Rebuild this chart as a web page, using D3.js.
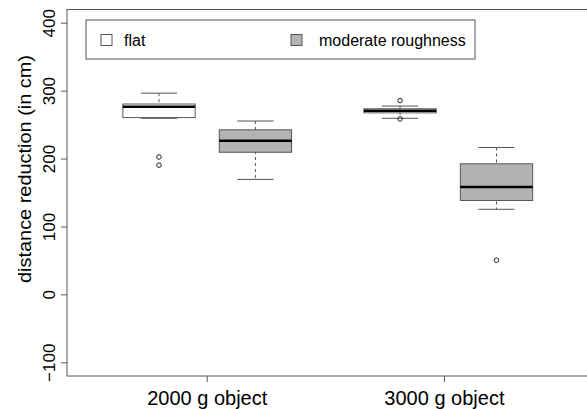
<!DOCTYPE html>
<html>
<head>
<meta charset="utf-8">
<script src="https://cdn.jsdelivr.net/npm/d3@7"></script>
<style>
	body { margin: 0; background: #fff; }
	text { font-family: "Liberation Sans", Arial, sans-serif; }
</style>
</head>
<body>
<div id="container"></div>
<script>
// box positions and stats
var groups = ["2000 g object", "3000 g object"];
var groupPos = [1.5, 3.96];
var surfaces = ["flat", "moderate roughness"];
var surfaceFill = ["#ffffff", "#b3b3b3"];

var boxPos = [1, 2, 3.5, 4.5];
var boxSurface = [0, 1, 0, 1];
var whiskLow = [260, 170, 260, 126];
var q1 = [261, 210, 268, 139];
var median = [277, 227, 271, 159];
var q3 = [281, 243, 274, 193];
var whiskHigh = [297, 256, 278, 217];
var outliers = [[203, 191], [], [286, 259], [51]];

var yTicks = [-100, 0, 100, 200, 300, 400];

var width = 587,
	height = 409,
	plotLeft = 67,
	plotTop = 9.5,
	plotBottom = 376,
	boxWidth = 0.75;

var xScale = d3.scaleLinear()
	.domain([1, 4.5])
	.range([159, 496.5]);

var yScale = d3.scaleLinear()
	.domain([-100, 400])
	.range([362.8, 23.2]);

var svg = d3.select("#container")
	.append("svg")
		.attr("width", width)
		.attr("height", height);

var frameCol = "#555";

// plot frame (right side runs off the picture)
svg.append("rect")
	.attr("x", plotLeft)
	.attr("y", plotTop)
	.attr("width", 560)
	.attr("height", plotBottom - plotTop)
	.style("fill", "none")
	.style("stroke", frameCol)
	.style("stroke-width", 1);

// y axis
var yAxis = svg.append("g").attr("transform", "translate(" + plotLeft + ",0)");
yAxis.selectAll("line")
	.data(yTicks)
	.enter().append("line")
	.attr("x1", -6).attr("x2", 0)
	.attr("y1", function(d){ return yScale(d) })
	.attr("y2", function(d){ return yScale(d) })
	.style("stroke", frameCol);
yAxis.selectAll("text")
	.data(yTicks)
	.enter().append("text")
	.attr("transform", function(d){
		return "translate(-12," + yScale(d) + ") rotate(-90)"
	})
	.attr("text-anchor", "middle")
	.style("font-size", "17px")
	.text(function(d){ return d < 0 ? "\u2212" + (-d) : d });

svg.append("text")
	.attr("transform", "translate(31,169) rotate(-90)")
	.attr("text-anchor", "middle")
	.attr("textLength", 228)
	.attr("lengthAdjust", "spacingAndGlyphs")
	.style("font-size", "19px")
	.text("distance reduction (in cm)");

// x axis
var xAxis = svg.append("g").attr("transform", "translate(0," + plotBottom + ")");
xAxis.selectAll("line")
	.data(groupPos)
	.enter().append("line")
	.attr("x1", function(d){ return xScale(d) })
	.attr("x2", function(d){ return xScale(d) })
	.attr("y1", 0).attr("y2", 6)
	.style("stroke", frameCol);
xAxis.selectAll("text")
	.data(groups)
	.enter().append("text")
	.attr("x", function(d, i){ return xScale(groupPos[i]) })
	.attr("y", 29)
	.attr("text-anchor", "middle")
	.style("font-size", "20px")
	.text(function(d){ return d });

// boxes
var boxes = svg.selectAll("g.box")
	.data(boxPos)
	.enter().append("g")
	.attr("class", "box");

var half = function(i, f){
	return (xScale(boxPos[i] + boxWidth / 2 * f) - xScale(boxPos[i] - boxWidth / 2 * f)) / 2
};

boxes.append("line")
	.attr("x1", function(d){ return xScale(d) })
	.attr("x2", function(d){ return xScale(d) })
	.attr("y1", function(d, i){ return yScale(whiskHigh[i]) })
	.attr("y2", function(d, i){ return yScale(whiskLow[i]) })
	.style("stroke", frameCol)
	.style("stroke-dasharray", "3,3");

boxes.append("line")
	.attr("x1", function(d, i){ return xScale(d) - half(i, 0.5) })
	.attr("x2", function(d, i){ return xScale(d) + half(i, 0.5) })
	.attr("y1", function(d, i){ return yScale(whiskHigh[i]) })
	.attr("y2", function(d, i){ return yScale(whiskHigh[i]) })
	.style("stroke", frameCol);

boxes.append("line")
	.attr("x1", function(d, i){ return xScale(d) - half(i, 0.5) })
	.attr("x2", function(d, i){ return xScale(d) + half(i, 0.5) })
	.attr("y1", function(d, i){ return yScale(whiskLow[i]) })
	.attr("y2", function(d, i){ return yScale(whiskLow[i]) })
	.style("stroke", frameCol);

boxes.append("rect")
	.attr("x", function(d, i){ return xScale(d) - half(i, 1) })
	.attr("width", function(d, i){ return 2 * half(i, 1) })
	.attr("y", function(d, i){ return yScale(q3[i]) })
	.attr("height", function(d, i){ return yScale(q1[i]) - yScale(q3[i]) })
	.style("fill", function(d, i){ return surfaceFill[boxSurface[i]] })
	.style("stroke", frameCol);

boxes.append("line")
	.attr("x1", function(d, i){ return xScale(d) - half(i, 1) })
	.attr("x2", function(d, i){ return xScale(d) + half(i, 1) })
	.attr("y1", function(d, i){ return yScale(median[i]) })
	.attr("y2", function(d, i){ return yScale(median[i]) })
	.style("stroke", "#000")
	.style("stroke-width", 2.5);

boxes.each(function(d, i){
	d3.select(this).selectAll("circle")
		.data(outliers[i])
		.enter().append("circle")
		.attr("cx", xScale(d))
		.attr("cy", function(v){ return yScale(v) })
		.attr("r", 2.3)
		.style("fill", "none")
		.style("stroke", "#222")
		.style("stroke-width", 1);
});

// legend
var legend = svg.append("g");
legend.append("rect")
	.attr("x", 86).attr("y", 20)
	.attr("width", 389).attr("height", 39)
	.style("fill", "#fff")
	.style("stroke", frameCol);

var legendX = [101, 291];
var legendTextX = [124, 319];
legend.selectAll("rect.key")
	.data(surfaces)
	.enter().append("rect")
	.attr("class", "key")
	.attr("x", function(d, i){ return legendX[i] })
	.attr("y", 34.5)
	.attr("width", 11).attr("height", 11)
	.style("fill", function(d, i){ return surfaceFill[i] })
	.style("stroke", frameCol);

legend.selectAll("text")
	.data(surfaces)
	.enter().append("text")
	.attr("x", function(d, i){ return legendTextX[i] })
	.attr("y", 45.5)
	.style("font-size", "16px")
	.text(function(d){ return d });
</script>
</body>
</html>
